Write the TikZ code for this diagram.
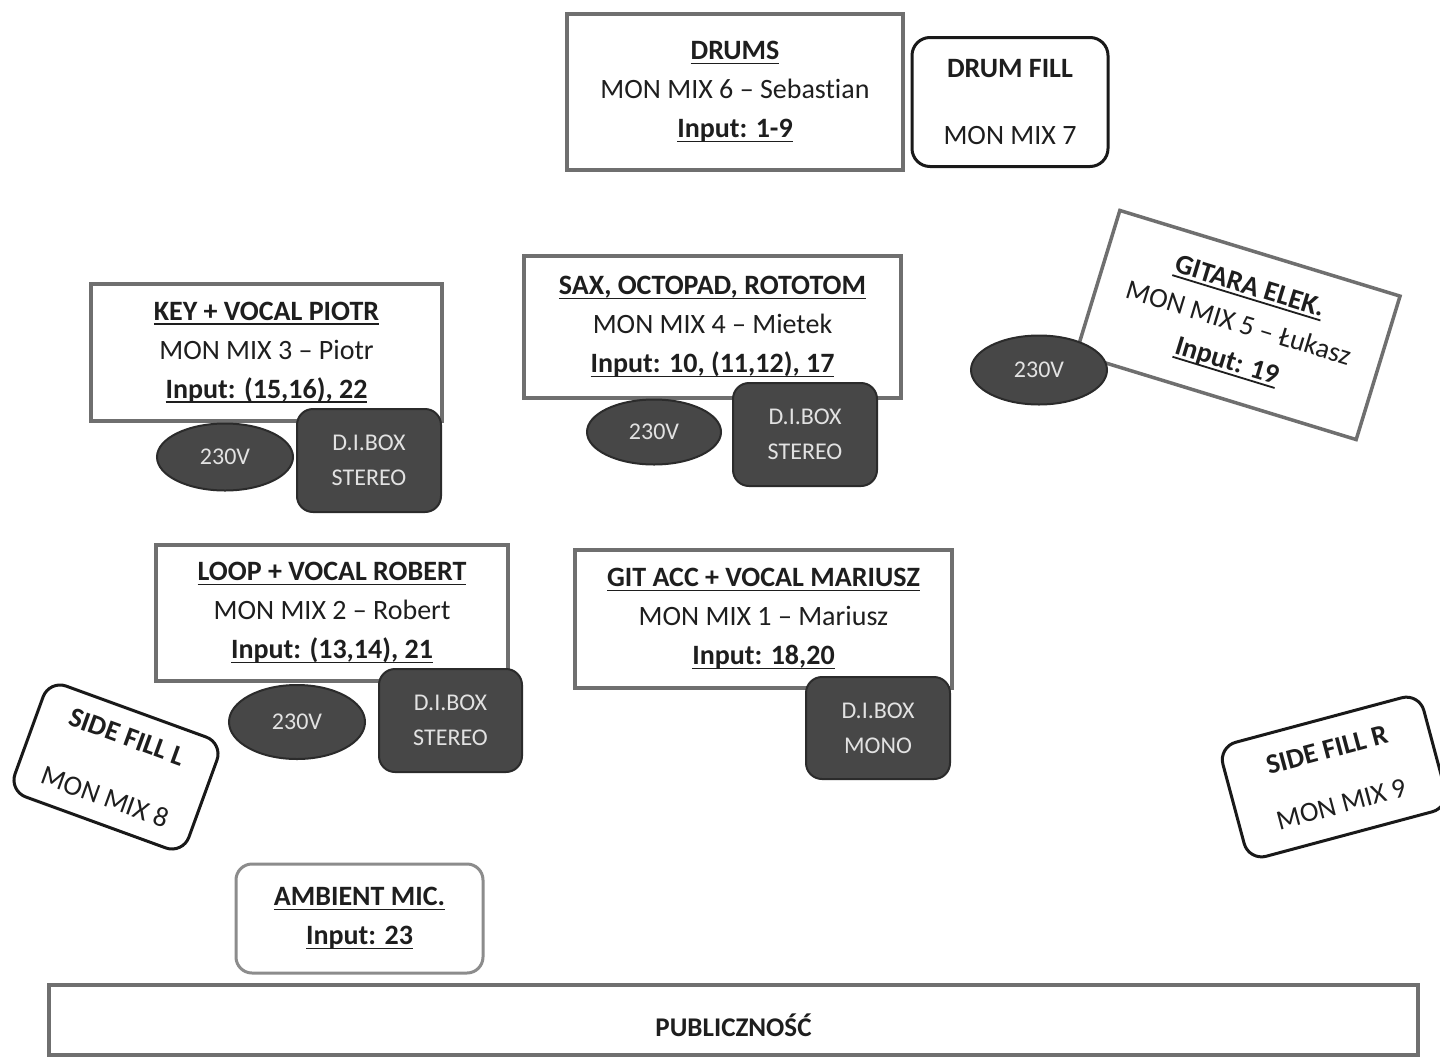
\documentclass[tikz,border=0pt]{standalone}
\usepackage{fontspec}
\setmainfont{Carlito}[Ligatures={TeX,NoCommon}]
\usetikzlibrary{shapes.geometric}
\definecolor{txt}{HTML}{1E1E1E}
\definecolor{frame}{HTML}{6F6F6F}
\definecolor{dark}{HTML}{474747}
\definecolor{darkline}{HTML}{2B2B2B}
\definecolor{light}{HTML}{E2E2E2}
\definecolor{amb}{HTML}{8C8C8C}
\newcommand\ulb[1]{\setbox0\hbox{\bfseries #1}\rlap{\rule[-4.5pt]{\wd0}{1.8pt}}\box0}
\tikzset{
  station/.style={draw=frame, line width=3.5pt, fill=white, text=txt, align=center, inner sep=0pt,
    font=\fontsize{28}{39}\selectfont},
  fillbox/.style={draw=black!90, line width=3pt, rounded corners=18pt, fill=white, text=txt,
    align=center, inner sep=0pt},
  power/.style={ellipse, draw=darkline, line width=2pt, fill=dark, text=light, inner sep=0pt,
    font=\fontsize{24}{28}\selectfont},
  dibox/.style={draw=darkline, line width=2pt, fill=dark, rounded corners=16pt, text=light,
    align=center, inner sep=0pt, minimum width=144pt, minimum height=103pt,
    font=\fontsize{24}{35}\selectfont},
}
\begin{document}
\begin{tikzpicture}[x=1pt,y=-1pt]
\useasboundingbox (0,0) rectangle (1440,1058);
\fill[white] (0,0) rectangle (1440,1058);

% main stations
\node[station, minimum width=336pt, minimum height=156pt] (drums) at (735,92)
  {\ulb{DRUMS}\\MON MIX 6 – Sebastian\\\ulb{Input: 1-9}};
\node[fillbox, minimum width=196pt, minimum height=129pt, font=\fontsize{28}{64}\selectfont] (drumfill) at (1010,102)
  {\textbf{DRUM FILL}\\[3pt]MON MIX 7};
\node[station, minimum width=351pt, minimum height=137pt] (key) at (266.5,352.5)
  {\ulb{KEY + VOCAL PIOTR}\\MON MIX 3 – Piotr\\\ulb{Input: (15,16), 22}};
\node[station, minimum width=377pt, minimum height=142pt] (sax) at (712.5,327)
  {\ulb{SAX, OCTOPAD, ROTOTOM}\\MON MIX 4 – Mietek\\\ulb{Input: 10, (11,12), 17}};
\node[station, minimum width=293pt, minimum height=150pt, rotate=-17] (gitara) at (1238,325)
  {\ulb{GITARA ELEK.}\\MON MIX 5 – Łukasz\\\ulb{Input: 19}};
\node[station, minimum width=352pt, minimum height=136pt] (loop) at (332,613)
  {\ulb{LOOP + VOCAL ROBERT}\\MON MIX 2 – Robert\\\ulb{Input: (13,14), 21}};
\node[station, minimum width=377pt, minimum height=138pt] (gitacc) at (763.5,619)
  {\ulb{GIT ACC + VOCAL MARIUSZ}\\MON MIX 1 – Mariusz\\\ulb{Input: 18,20}};

% side fills
\node[fillbox, minimum width=185pt, minimum height=118pt, rotate=-20, font=\fontsize{28}{64}\selectfont] (sfl) at (116,767)
  {\textbf{SIDE FILL L}\\MON MIX 8};
\node[fillbox, minimum width=208pt, minimum height=118pt, rotate=15, font=\fontsize{28}{56}\selectfont] (sfr) at (1334,777)
  {\textbf{SIDE FILL R}\\MON MIX 9};

% power and DI boxes
\node[power, minimum width=136pt, minimum height=67pt] (p1) at (225,457) {230V};
\node[dibox] (d1) at (369,460.5) {D.I.BOX\\STEREO};
\node[power, minimum width=134pt, minimum height=65pt] (p2) at (654,432) {230V};
\node[dibox] (d2) at (805,434.5) {D.I.BOX\\STEREO};
\node[power, minimum width=136pt, minimum height=69pt] (p3) at (1039,370) {230V};
\node[power, minimum width=136pt, minimum height=74pt] (p4) at (297,722) {230V};
\node[dibox, minimum width=143pt] (d3) at (450.5,720.5) {D.I.BOX\\STEREO};
\node[dibox, minimum height=102pt] (d4) at (878,728) {D.I.BOX\\MONO};

% ambient mic
\node[draw=amb, line width=3pt, rounded corners=16pt, fill=white, text=txt, align=center, inner sep=0pt,
  minimum width=247pt, minimum height=109pt, font=\fontsize{28}{39}\selectfont] (amb) at (359.5,918.5)
  {\ulb{AMBIENT MIC.}\\\ulb{Input: 23}};

% audience
\node[station, minimum width=1369pt, minimum height=70pt] (pub) at (733.5,1020) {};
\node[text=txt, font=\fontsize{27}{30}\selectfont\bfseries, inner sep=0pt] (publbl) at (733.5,1025) {PUBLICZNOŚĆ};
\end{tikzpicture}
\end{document}
